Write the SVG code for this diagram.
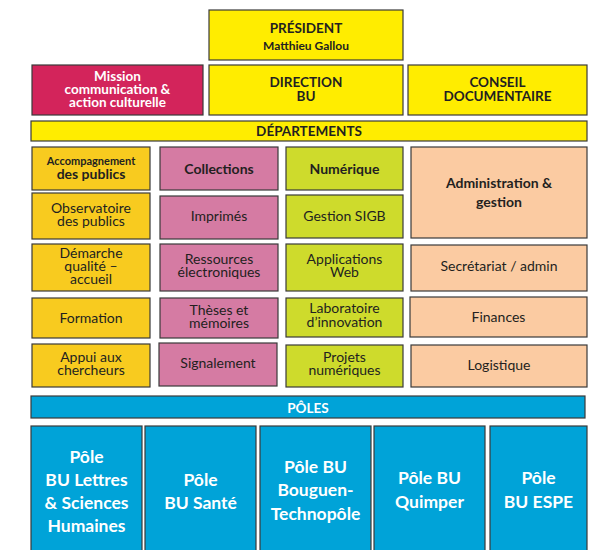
<svg xmlns="http://www.w3.org/2000/svg" width="595" height="550" viewBox="0 0 595 550">
<style>
rect{stroke:#3a3a3a;stroke-width:1.2}
text{font-family:Lato,"Open Sans","DejaVu Sans",sans-serif;text-anchor:middle;fill:#231f20}
.b{font-weight:bold}
.w{fill:#ffffff}
.t{font-size:14px}
.h{font-size:13.5px;font-weight:bold}
.p{font-size:17.5px;font-weight:bold;fill:#ffffff}
.yel{fill:#FFED00}
.mag{fill:#D3245B}
.gold{fill:#F8CB1F}
.pink{fill:#D57BA3}
.lime{fill:#CEDB2C}
.peach{fill:#FBCBA2}
.blue{fill:#00A3D8}
</style>
<rect width="595" height="550" fill="#ffffff" style="stroke:none"/>

<g id="president"><rect class="yel" x="209" y="10" width="194" height="50"/>
<text class="h" x="306" y="33">PRÉSIDENT</text>
<text class="b" style="font-size:12px" x="306" y="50">Matthieu Gallou</text></g>

<g id="mission"><rect class="mag" x="32" y="65" width="171" height="50"/>
<text class="h w" x="117.5" y="80.5">Mission</text>
<text class="h w" x="117.5" y="93.5">communication &amp;</text>
<text class="h w" x="117.5" y="106.5">action culturelle</text></g>

<g id="direction"><rect class="yel" x="209" y="65" width="194" height="50"/>
<text class="h" x="306" y="87">DIRECTION</text>
<text class="h" x="306" y="100.5">BU</text></g>

<g id="conseil"><rect class="yel" x="408" y="65" width="179" height="50"/>
<text class="h" x="497.5" y="87">CONSEIL</text>
<text class="h" x="497.5" y="100.5">DOCUMENTAIRE</text></g>

<g id="departements"><rect class="yel" x="31" y="121" width="556" height="20"/>
<text class="h" x="309" y="136">DÉPARTEMENTS</text></g>

<g id="accompagnement"><rect class="gold" x="32" y="147" width="118" height="43"/>
<text class="b" style="font-size:11px" x="91" y="164.5">Accompagnement</text>
<text class="b" style="font-size:14px" x="91" y="178.5">des publics</text></g>

<g id="collections"><rect class="pink" x="160" y="147" width="118" height="43"/>
<text class="b t" x="219" y="174">Collections</text></g>

<g id="numerique"><rect class="lime" x="286" y="147" width="117" height="43"/>
<text class="b t" x="344.5" y="174">Numérique</text></g>

<g id="administration"><rect class="peach" x="411" y="147" width="176" height="91"/>
<text class="b t" x="499" y="188">Administration &amp;</text>
<text class="b t" x="499" y="207">gestion</text></g>

<g id="observatoire"><rect class="gold" x="32" y="193" width="118" height="46"/>
<text class="t" x="91" y="212.5">Observatoire</text>
<text class="t" x="91" y="226">des publics</text></g>

<g id="imprimes"><rect class="pink" x="160" y="196" width="118" height="43"/>
<text class="t" x="219" y="221">Imprimés</text></g>

<g id="sigb"><rect class="lime" x="286" y="195" width="117" height="43"/>
<text class="t" x="344.5" y="221">Gestion SIGB</text></g>

<g id="demarche"><rect class="gold" x="32" y="244" width="118" height="47"/>
<text class="t" x="91" y="257.5">Démarche</text>
<text class="t" x="91" y="270.5">qualité –</text>
<text class="t" x="91" y="283.5">accueil</text></g>

<g id="ressources"><rect class="pink" x="160" y="244" width="118" height="47"/>
<text class="t" x="219" y="263.5">Ressources</text>
<text class="t" x="219" y="277">électroniques</text></g>

<g id="applications"><rect class="lime" x="286" y="244" width="117" height="47"/>
<text class="t" x="344.5" y="263.5">Applications</text>
<text class="t" x="344.5" y="277">Web</text></g>

<g id="secretariat"><rect class="peach" x="411" y="245" width="176" height="46"/>
<text class="t" x="499" y="271">Secrétariat / admin</text></g>

<g id="formation"><rect class="gold" x="32" y="298" width="118" height="40"/>
<text class="t" x="91" y="323">Formation</text></g>

<g id="theses"><rect class="pink" x="160" y="298" width="118" height="40"/>
<text class="t" x="219" y="314.5">Thèses et</text>
<text class="t" x="219" y="328">mémoires</text></g>

<g id="laboratoire"><rect class="lime" x="286" y="298" width="117" height="39"/>
<text class="t" x="344.5" y="313">Laboratoire</text>
<text class="t" x="344.5" y="326.5">d’innovation</text></g>

<g id="finances"><rect class="peach" x="410" y="297" width="177" height="40"/>
<text class="t" x="498.5" y="322">Finances</text></g>

<g id="appui"><rect class="gold" x="32" y="344" width="118" height="43"/>
<text class="t" x="91" y="361.5">Appui aux</text>
<text class="t" x="91" y="375">chercheurs</text></g>

<g id="signalement"><rect class="pink" x="159" y="343" width="118" height="43"/>
<text class="t" x="218" y="368">Signalement</text></g>

<g id="projets"><rect class="lime" x="286" y="345" width="117" height="42"/>
<text class="t" x="344.5" y="361.5">Projets</text>
<text class="t" x="344.5" y="375">numériques</text></g>

<g id="logistique"><rect class="peach" x="411" y="345" width="176" height="42"/>
<text class="t" x="499" y="370">Logistique</text></g>

<g id="poles"><rect class="blue" x="31" y="396" width="554" height="22"/>
<text class="h w" x="308" y="412.5">PÔLES</text></g>

<g id="pole-lettres"><rect class="blue" x="31" y="426" width="111" height="130"/>
<text class="p" x="86.5" y="463">Pôle</text>
<text class="p" x="86.5" y="486">BU Lettres</text>
<text class="p" x="86.5" y="509">&amp; Sciences</text>
<text class="p" x="86.5" y="532">Humaines</text></g>

<g id="pole-sante"><rect class="blue" x="145" y="426" width="111" height="130"/>
<text class="p" x="200.5" y="486">Pôle</text>
<text class="p" x="200.5" y="509">BU Santé</text></g>

<g id="pole-bouguen"><rect class="blue" x="260" y="426" width="111" height="130"/>
<text class="p" x="315.5" y="473">Pôle BU</text>
<text class="p" x="315.5" y="496">Bouguen-</text>
<text class="p" x="315.5" y="520">Technopôle</text></g>

<g id="pole-quimper"><rect class="blue" x="374" y="426" width="111" height="130"/>
<text class="p" x="429.5" y="484">Pôle BU</text>
<text class="p" x="429.5" y="508">Quimper</text></g>

<g id="pole-espe"><rect class="blue" x="490" y="426" width="97" height="130"/>
<text class="p" x="538.5" y="484">Pôle</text>
<text class="p" x="538.5" y="508">BU ESPE</text></g>
</svg>
